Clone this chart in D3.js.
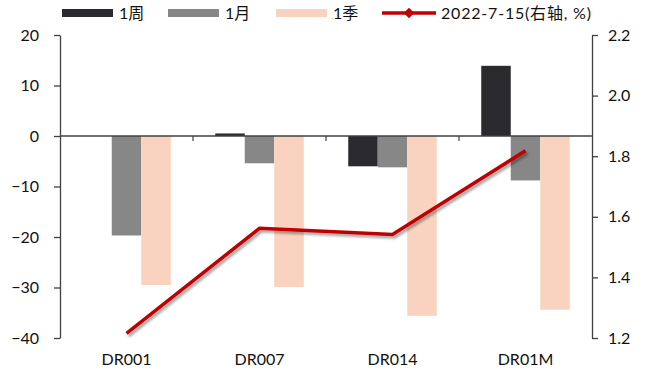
<!DOCTYPE html>
<html>
<head>
<meta charset="utf-8">
<script src="https://cdn.jsdelivr.net/npm/d3@7"></script>
<style>
  html, body { margin: 0; padding: 0; background: #fff; }
  svg text { font-family: "Lato", "Noto Sans CJK SC", sans-serif; fill: #111; }
</style>
</head>
<body>
<svg id="chart" width="646" height="371"></svg>
<script>
// Categories and series
const categories = ["DR001", "DR007", "DR014", "DR01M"];
const seriesNames = ["1周", "1月", "1季"];
const weekChange = [0, 0.5, -6.0, 13.9];
const monthChange = [-19.7, -5.4, -6.2, -8.8];
const quarterChange = [-29.5, -29.9, -35.6, -34.4];
const lineName = "2022-7-15(右轴, %)";
const rateValues = [1.215, 1.562, 1.542, 1.818];
const leftTicks = [-40, -30, -20, -10, 0, 10, 20];
const rightTicks = [1.2, 1.4, 1.6, 1.8, 2.0, 2.2];

const seriesValues = [weekChange, monthChange, quarterChange];
const colors = ["#2B2A2F", "#878787", "#F9D3C0"];
const lineColor = "#C00000";

const svg = d3.select("#chart");
const plotLeft = 60, plotRight = 592, plotTop = 35, plotBottom = 338;

const x0 = d3.scaleBand().domain(categories).range([plotLeft, plotRight]).padding(0);
const x1 = d3.scaleBand().domain(seriesNames).range([0, x0.bandwidth()])
  .paddingInner(0).paddingOuter(0.754);
const yL = d3.scaleLinear().domain([-40, 20]).range([plotBottom, plotTop]);
const yR = d3.scaleLinear().domain([1.2, 2.2]).range([plotBottom, plotTop]);

// Drop shadow for the line
const defs = svg.append("defs");
const f = defs.append("filter").attr("id", "shadow")
  .attr("x", "-10%").attr("y", "-10%").attr("width", "130%").attr("height", "130%");
f.append("feDropShadow").attr("dx", 2).attr("dy", 2.5).attr("stdDeviation", 1.3)
  .attr("flood-color", "#000").attr("flood-opacity", 0.35);

// Bars
seriesNames.forEach((s, si) => {
  svg.append("g").selectAll("rect")
    .data(categories.map((c, i) => ({ c, v: seriesValues[si][i] })))
    .join("rect")
    .attr("x", d => x0(d.c) + x1(s))
    .attr("width", x1.bandwidth())
    .attr("y", d => yL(Math.max(0, d.v)))
    .attr("height", d => Math.abs(yL(d.v) - yL(0)))
    .attr("fill", colors[si]);
});

// Zero line with category separators
svg.append("line").attr("x1", plotLeft).attr("x2", plotRight)
  .attr("y1", yL(0)).attr("y2", yL(0))
  .attr("stroke", "#404040").attr("stroke-width", 1.5);
svg.append("g").selectAll("line")
  .data(categories.slice(1))
  .join("line")
  .attr("x1", d => x0(d)).attr("x2", d => x0(d))
  .attr("y1", yL(0)).attr("y2", yL(0) + 5)
  .attr("stroke", "#404040").attr("stroke-width", 1.2);

// Axes
const gL = svg.append("g").attr("transform", `translate(${plotLeft},0)`)
  .call(d3.axisLeft(yL).tickValues(leftTicks).tickSize(6).tickSizeOuter(0).tickPadding(15));
const gR = svg.append("g").attr("transform", `translate(${plotRight},0)`)
  .call(d3.axisRight(yR).tickValues(rightTicks).tickSize(6).tickSizeOuter(0).tickPadding(10)
    .tickFormat(d3.format(".1f")));
[gL, gR].forEach(g => {
  g.selectAll("path, line").attr("stroke", "#404040").attr("stroke-width", 1.3);
  g.selectAll("text").attr("font-size", 16).attr("fill", "#111");
});

// Category labels
svg.append("g").selectAll("text")
  .data(categories)
  .join("text")
  .attr("x", d => x0(d) + x0.bandwidth() / 2)
  .attr("y", 359)
  .attr("dy", "0.35em")
  .attr("text-anchor", "middle")
  .attr("font-size", 16)
  .text(d => d);

// Rate line
const line = d3.line()
  .x((d, i) => x0(categories[i]) + x0.bandwidth() / 2)
  .y(d => yR(d));
svg.append("path").datum(rateValues)
  .attr("d", line)
  .attr("fill", "none")
  .attr("stroke", lineColor)
  .attr("stroke-width", 3.5)
  .attr("stroke-linejoin", "miter")
  .attr("filter", "url(#shadow)");

// Legend
const legend = svg.append("g");
const legendX = [62, 168, 276];
const legendY = 13;
seriesNames.forEach((s, i) => {
  legend.append("rect").attr("x", legendX[i]).attr("y", legendY - 4)
    .attr("width", 51).attr("height", 8).attr("fill", colors[i]);
  legend.append("text").attr("x", legendX[i] + 57).attr("y", legendY).attr("dy", "0.35em")
    .attr("font-size", 16).text(s);
});
legend.append("line").attr("x1", 382).attr("x2", 436).attr("y1", legendY).attr("y2", legendY)
  .attr("stroke", lineColor).attr("stroke-width", 3.5);
legend.append("path")
  .attr("d", d3.symbol(d3.symbolSquare, 55)())
  .attr("transform", `translate(409,${legendY}) rotate(45)`)
  .attr("fill", lineColor);
legend.append("text").attr("x", 441).attr("y", legendY).attr("dy", "0.35em")
  .attr("font-size", 16).attr("letter-spacing", 0.8).text(lineName);
</script>
</body>
</html>
